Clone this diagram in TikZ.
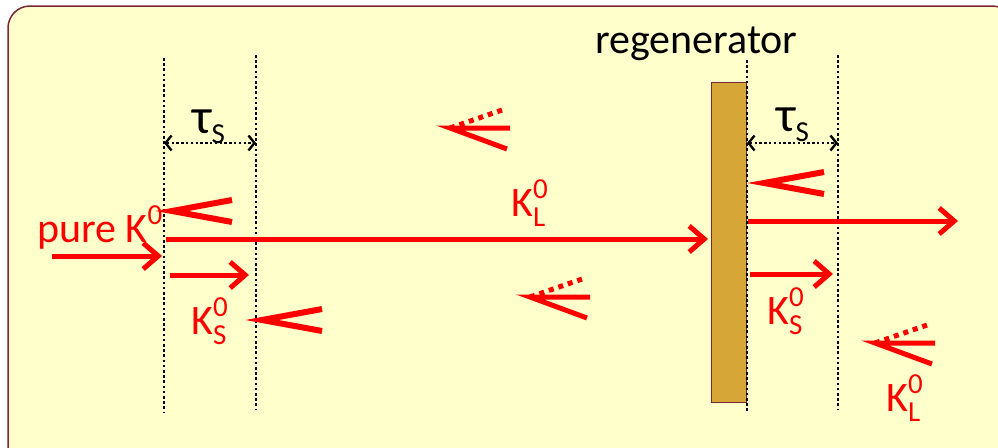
\documentclass[tikz,border=0pt]{standalone}
\usepackage{fontspec}
\setmainfont{Carlito}
\usetikzlibrary{arrows.meta}
\definecolor{panel}{RGB}{255,255,204}
\definecolor{frame}{RGB}{122,38,52}
\definecolor{regen}{RGB}{214,166,54}
\newcommand{\bigfont}{\fontsize{42}{46}\selectfont}
\newcommand{\subfont}{\fontsize{29}{31}\selectfont}
\newcommand{\kzero}[1]{K\makebox[0pt][l]{\raisebox{0.42em}{\subfont 0}}\raisebox{-0.24em}{\subfont #1}}
\tikzset{
  beam/.style={red, line width=5pt, -{Straight Barb[length=15pt,width=26pt]}},
  chev/.style={red, line width=6pt},
  decay/.style={red, line width=5pt, dash pattern=on 5pt off 5pt},
  boundary/.style={black, line width=2.6pt, dash pattern=on 2.6pt off 2.6pt},
  span/.style={black, line width=2.4pt, dash pattern=on 2.4pt off 2.4pt,
    {Straight Barb[length=6pt,width=15pt]}-{Straight Barb[length=6pt,width=15pt]}},
  lbl/.style={red, font=\bigfont, inner sep=0pt},
  tag/.style={black, font=\bigfont, inner sep=0pt}
}
\begin{document}
\begin{tikzpicture}[x=1pt,y=-1pt]
\clip (0,0) rectangle (998,447);
\draw[frame, fill=panel, line width=1.5pt, rounded corners=22pt] (8,6) rectangle (1014,470);
% regenerator slab
\draw[frame, fill=regen, line width=1pt] (711,82) rectangle (746,402);
\node[tag, anchor=base west] (regname) at (595,53) {regenerator};
% boundaries
\coordinate (a1) at (164,58); \coordinate (a2) at (164,413);
\coordinate (b1) at (256,55); \coordinate (b2) at (256,410);
\coordinate (c1) at (747,60); \coordinate (c2) at (747,413);
\coordinate (d1) at (838,55); \coordinate (d2) at (838,410);
\foreach \p in {a,b,c,d} \draw[boundary] (\p1) -- (\p2);
% tau_S spans
\coordinate (sl1) at (164,143); \coordinate (sl2) at (256,143);
\coordinate (sr1) at (747,143); \coordinate (sr2) at (838,143);
\draw[span] (sl1) -- (sl2);
\draw[span] (sr1) -- (sr2);
\node[tag, anchor=base west] (taul) at (192,133) {\fontsize{50}{50}\selectfont τ\raisebox{-0.2em}{\subfont S}};
\node[tag, anchor=base west] (taur) at (776,131) {\fontsize{50}{50}\selectfont τ\raisebox{-0.2em}{\subfont S}};
% beams
\coordinate (in0) at (52,256); \coordinate (in1) at (162,256);
\coordinate (l0) at (166,239); \coordinate (l1) at (708,239);
\coordinate (s0) at (170,275); \coordinate (s1) at (249,275);
\coordinate (r0) at (748,221); \coordinate (r1) at (958,221);
\coordinate (t0) at (750,274); \coordinate (t1) at (833,274);
\draw[beam] (in0) -- (in1);
\draw[beam] (l0) -- (l1);
\draw[beam] (s0) -- (s1);
\draw[beam] (r0) -- (r1);
\draw[beam] (t0) -- (t1);
% labels
\node[lbl, anchor=base west] (pure) at (37,242) {pure K\raisebox{0.42em}{\subfont 0}};
\node[lbl, anchor=base west] (kl) at (511,216) {\kzero{L}};
\node[lbl, anchor=base west] (ksl) at (191,334) {\kzero{S}};
\node[lbl, anchor=base west] (ksr) at (767,324) {\kzero{S}};
\node[lbl, anchor=base west] (klr) at (886,411) {\kzero{L}};
% short-lived chevrons
\foreach \x/\y in {172/211, 262/320, 764/183}
  \draw[chev] (\x+60,\y-11) -- (\x,\y) -- (\x+60,\y+11);
% long-lived split symbols
\foreach \x/\y in {450/128, 530/297, 875/343}{
  \coordinate (tip) at (\x,\y);
  \draw[chev, line width=5pt] ([xshift=60pt]tip) -- (tip) -- ([xshift=57pt,yshift=-21pt]tip);
  \draw[decay] (tip) -- ([xshift=55pt,yshift=19pt]tip);
}
\end{tikzpicture}
\end{document}
